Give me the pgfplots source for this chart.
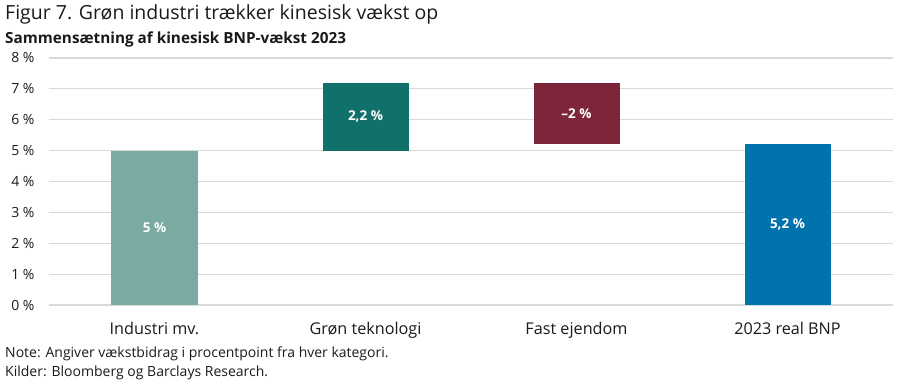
\documentclass[border=0pt]{standalone}
\usepackage{fontspec}
\setmainfont{Open Sans}
\usepackage{pgfplots}
\pgfplotsset{compat=1.18}
\definecolor{cInd}{HTML}{79ABA2}
\definecolor{cGron}{HTML}{11716A}
\definecolor{cFast}{HTML}{7E2639}
\definecolor{cBnp}{HTML}{0073AD}
\definecolor{cGrid}{HTML}{D9D9D9}
\definecolor{cTxt}{HTML}{1A1A1A}
\begin{document}
\begin{tikzpicture}
\useasboundingbox (0pt,0pt) rectangle (900pt,382pt);
\pgfplotsset{
  base/.style={
    at={(49pt,77pt)}, anchor=south west,
    scale only axis, width=844pt, height=247pt,
    xmin=-0.5, xmax=3.5, ymin=0, ymax=8,
  }
}
\begin{axis}[base,
  ybar stacked, bar width=86pt,
  axis line style={draw=none},
  major tick length=0pt,
  ymajorgrids, grid style={cGrid, line width=1.1pt},
  ytick={0,1,2,3,4,5,6,7,8},
  yticklabels={0 \%,1 \%,2 \%,3 \%,4 \%,5 \%,6 \%,7 \%,8 \%},
  yticklabel style={anchor=east, xshift=-11pt, font=\fontsize{14}{16}\selectfont, text=cTxt},
  xtick={0,1,2,3},
  xticklabels={Industri mv., Grøn teknologi, Fast ejendom, 2023 real BNP},
  xticklabel style={anchor=base, yshift=-30pt, font=\fontsize{16.2}{18}\selectfont, text=cTxt},
]
\addplot[draw=none, fill=none] coordinates {(0,0) (1,5) (2,5.2) (3,0)};
\addplot[draw=none, fill=cInd] coordinates {(0,5) (1,0) (2,0) (3,0)};
\addplot[draw=none, fill=cGron] coordinates {(0,0) (1,2.2) (2,0) (3,0)};
\addplot[draw=none, fill=cFast] coordinates {(0,0) (1,0) (2,2) (3,0)};
\addplot[draw=none, fill=cBnp] coordinates {(0,0) (1,0) (2,0) (3,5.2)};
\end{axis}
\begin{axis}[base, hide axis]
\addplot[only marks, mark=none, point meta=explicit symbolic,
  nodes near coords, nodes near coords align={center},
  every node near coord/.append style={text=white, font=\bfseries\fontsize{13.5}{15}\selectfont}]
  coordinates {(0,2.5)[5 \%] (1,6.1)[2,2 \%] (2,6.2)[--2 \%] (3,2.6)[5,2 \%]};
\end{axis}
\node[anchor=base west, font=\fontsize{19.5}{21}\selectfont, text=cTxt, inner sep=0] at (5pt,362pt) {Figur 7. Grøn industri trækker kinesisk vækst op};
\node[anchor=base west, font=\bfseries\fontsize{15.3}{18}\selectfont, text=cTxt, inner sep=0] at (5pt,338pt) {Sammensætning af kinesisk BNP-vækst 2023};
\node[anchor=base west, font=\fontsize{14}{15}\selectfont, text=cTxt, inner sep=0] at (5pt,24pt) {Note: Angiver vækstbidrag i procentpoint fra hver kategori.};
\node[anchor=base west, font=\fontsize{14}{15}\selectfont, text=cTxt, inner sep=0] at (5pt,5pt) {Kilder: Bloomberg og Barclays Research.};
\end{tikzpicture}
\end{document}
